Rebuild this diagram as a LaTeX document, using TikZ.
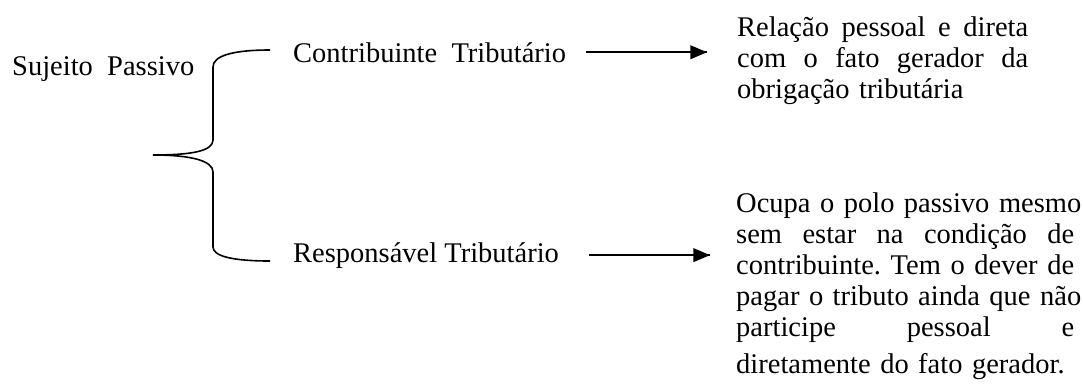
\documentclass[tikz,border=0pt]{standalone}
\usepackage{fontspec}
\setmainfont{Liberation Serif}
\usetikzlibrary{arrows}
\usetikzlibrary{decorations.markings}
\usetikzlibrary{positioning}
\tikzset{txt/.style = {inner sep = 0, font = \fontsize{28.5}{31}\selectfont\frenchspacing}}
\tikzset{seta/.style = {line width = 1.8,
                        decoration = {markings,
                                      mark = at position 1 with {\arrow[scale = 1.4]{triangle 45}}},
                        postaction = {decorate}}}
\tikzset{chave/.style = {line width = 1.6}}
\newcommand{\linha}[2]{\makebox[#1][s]{#2}}

\begin{document}
\begin{tikzpicture}[x = 1pt, y = -1pt]
  \useasboundingbox (0, 0) rectangle (1083, 389);

  \node [txt, anchor = base west] (sujeito) at (12, 75) {Sujeito\ \ Passivo};
  \node [txt, anchor = base west] (contrib) at (293, 62) {Contribuinte\ \ Tributário};
  \node [txt, anchor = base west] (respons) at (293, 262) {Responsável Tributário};

  \node [txt, anchor = base west, text width = 291pt, align = left] (relacao) at (737, 36)
    {\linha{291pt}{Relação \hfill pessoal \hfill e \hfill direta}\\
     \linha{291pt}{com \hfill o \hfill fato \hfill gerador \hfill da}\\
     obrigação tributária};
  \node [txt, anchor = base west, text width = 338pt, align = left] (ocupa) at (736, 212)
    {\linha{338pt}{Ocupa \hfill o \hfill polo \hfill passivo \hfill mesmo}\\
     \linha{338pt}{sem \hfill estar \hfill na \hfill condição \hfill de}\\
     \linha{338pt}{contribuinte. \hfill Tem \hfill o \hfill dever \hfill de}\\
     \linha{338pt}{pagar \hfill o \hfill tributo \hfill ainda \hfill que \hfill não}\\
     \linha{338pt}{participe \hfill pessoal \hfill e}\\[6pt]
     diretamente do fato gerador.};

  % chave
  \coordinate (chaveTop) at (270, 50);
  \coordinate (chaveTip) at (153, 155);
  \coordinate (chaveBot) at (270, 261);
  \draw [chave] (chaveTop) .. controls (232, 50) and (213, 56) .. (213, 67)
    -- (213, 140) .. controls (213, 151) and (192, 155) .. (chaveTip)
    .. controls (192, 155) and (213, 161) .. (213, 172)
    -- (213, 247) .. controls (213, 256) and (232, 261) .. (chaveBot);

  \draw [seta] ([xshift = 20]contrib.east) -- ([xshift = -30]contrib.east -| relacao.west);
  \draw [seta] ([xshift = 30]respons.east) -- ([xshift = -26]respons.east -| ocupa.west);
\end{tikzpicture}
\end{document}
